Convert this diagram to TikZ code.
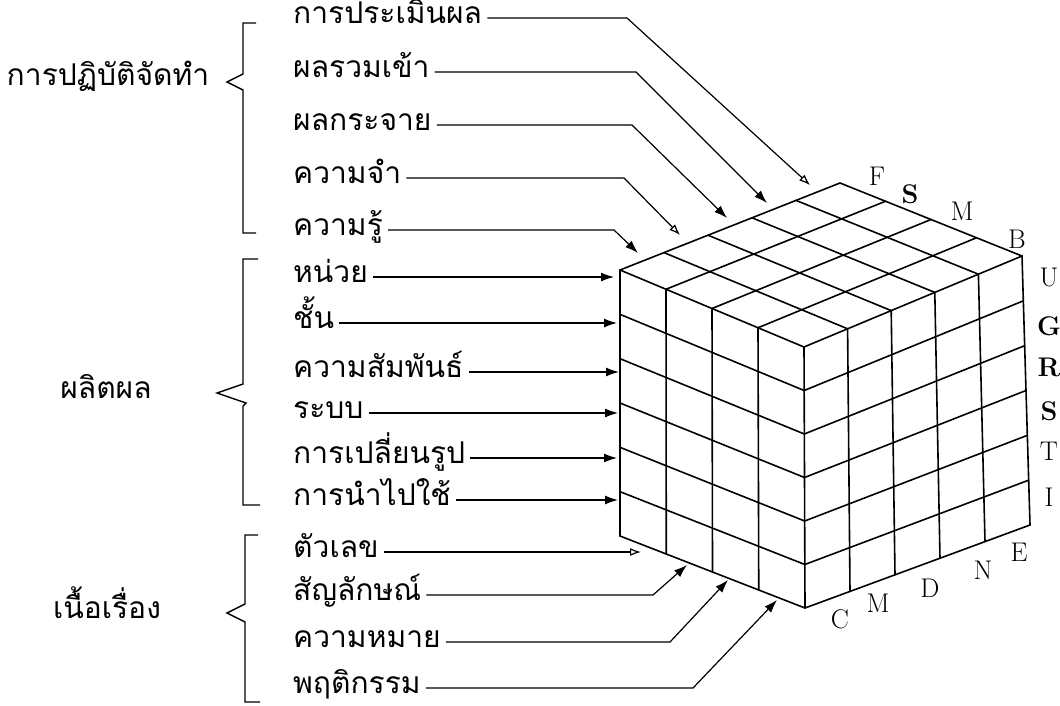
\documentclass[tikz,border=0pt]{standalone}
\usepackage{fontspec}
\newfontfamily\thai[Script=Thai]{Loma}
\usetikzlibrary{arrows.meta,calc}
\begin{document}
\begin{tikzpicture}[x=1pt,y=-1pt,
  lbl/.style={font=\thai\fontsize{30}{32}\selectfont, anchor=west, inner sep=0pt, text height=17pt, text depth=6pt},
  grp/.style={font=\thai\fontsize{30}{32}\selectfont, inner sep=0pt, text height=17pt, text depth=6pt},
  let/.style={font=\fontsize{27}{29}\selectfont, inner sep=0pt},
  blet/.style={font=\bfseries\fontsize{27}{29}\selectfont, inner sep=0pt},
  cube/.style={line width=1.6pt, line cap=round},
  conn/.style={line width=1.2pt},
  arr/.style={conn, -{Latex[length=13pt,width=9pt]}},
  oarr/.style={conn, -{Latex[open,length=11pt,width=8pt]}},
  brk/.style={line width=1.4pt}]
\useasboundingbox (0,0) rectangle (1060,705);

% ---------------- cube ----------------
\coordinate (LT) at (620,270);
\coordinate (NT) at (804,347);
\coordinate (RT) at (1022,256);
\coordinate (FT) at (840,183);
\coordinate (LB) at (620,536);
\coordinate (NB) at (805,608);
\coordinate (RB) at (1030,525);

\foreach \i in {1,2,3} \draw[cube] ($(LT)!\i/4!(NT)$) -- ($(LB)!\i/4!(NB)$);
\foreach \j in {1,...,5} \draw[cube] ($(LT)!\j/6!(LB)$) -- ($(NT)!\j/6!(NB)$);
\foreach \i in {1,...,4} \draw[cube] ($(NT)!\i/5!(RT)$) -- ($(NB)!\i/5!(RB)$);
\foreach \j in {1,...,5} \draw[cube] ($(NT)!\j/6!(NB)$) -- ($(RT)!\j/6!(RB)$);
\foreach \i in {1,...,4} \draw[cube] ($(LT)!\i/5!(FT)$) -- ($(NT)!\i/5!(RT)$);
\foreach \j in {1,2,3} \draw[cube] ($(LT)!\j/4!(NT)$) -- ($(FT)!\j/4!(RT)$);
\draw[cube] (LT) -- (FT) -- (RT) -- (RB) -- (NB) -- (LB) -- cycle;
\draw[cube] (LT) -- (NT) -- (RT);
\draw[cube] (NT) -- (NB);

% letters
\node[let]  (lF) at (877,176) {F};
\node[blet] (lS) at (910,194) {S};
\node[let]  (lM) at (962,211) {M};
\node[let]  (lB) at (1017,239) {B};

\node[let]  (rU) at (1049,277) {U};
\node[blet] (rC) at (1049,326) {G};
\node[blet] (rR) at (1049,367) {R};
\node[blet] (rS) at (1049,411) {S};
\node[let]  (rT) at (1049,451) {T};
\node[let]  (rI) at (1049,497) {I};

\node[let] (bC) at (840,619) {C};
\node[let] (bM) at (878,603) {M};
\node[let] (bD) at (930,588) {D};
\node[let] (bN) at (983,570) {N};
\node[let] (bE) at (1019,552) {E};

% ---------------- group labels and brackets ----------------
\node[grp] (g1) at (108,80) {การปฏิบัติจัดทำ};
\node[grp] (g2) at (106,393) {ผลิตผล};
\node[grp] (g3) at (107,613) {เนื้อเรื่อง};

\draw[brk] (256,23) -- (243,23) -- (243,74) -- (227,82) -- (243,90) -- (243,233) -- (256,233);
\draw[brk] (258,259) -- (243,259) -- (243,384) -- (217,393) -- (246,403) -- (243,406) -- (243,505) -- (260,505);
\draw[brk] (258,535) -- (245,535) -- (245,604) -- (227,613) -- (245,622) -- (245,702) -- (260,702);

% ---------------- operations (top) ----------------
\node[lbl] (o1) at (293,18)  {การประเมินผล};
\node[lbl] (o2) at (293,72)  {ผลรวมเข้า};
\node[lbl] (o3) at (293,125) {ผลกระจาย};
\node[lbl] (o4) at (293,178) {ความจำ};
\node[lbl] (o5) at (293,230) {ความรู้};

\coordinate (o1b) at (627,18);  \coordinate (o1t) at (810,185);
\coordinate (o2b) at (636,72);  \coordinate (o2t) at (767,203);
\coordinate (o3b) at (632,125); \coordinate (o3t) at (727,218);
\coordinate (o4b) at (624,178); \coordinate (o4t) at (680,235);
\coordinate (o5b) at (614,230); \coordinate (o5t) at (638,253);

\draw[oarr] ([xshift=5pt]o1.east) -- (o1b) -- (o1t);
\draw[arr]  ([xshift=5pt]o2.east) -- (o2b) -- (o2t);
\draw[arr]  ([xshift=5pt]o3.east) -- (o3b) -- (o3t);
\draw[oarr] ([xshift=5pt]o4.east) -- (o4b) -- (o4t);
\draw[arr]  ([xshift=5pt]o5.east) -- (o5b) -- (o5t);

% ---------------- products (left) ----------------
\node[lbl] (p1) at (293,277) {หน่วย};
\node[lbl] (p2) at (293,323) {ชั้น};
\node[lbl] (p3) at (293,372) {ความสัมพันธ์};
\node[lbl] (p4) at (293,413) {ระบบ};
\node[lbl] (p5) at (293,458) {การเปลี่ยนรูป};
\node[lbl] (p6) at (293,500) {การนำไปใช้};

\coordinate (p1t) at (614,277);
\coordinate (p2t) at (617,323);
\coordinate (p3t) at (619,372);
\coordinate (p4t) at (618,413);
\coordinate (p5t) at (617,458);
\coordinate (p6t) at (618,500);

\draw[arr] ([xshift=5pt]p1.east) -- (p1t);
\draw[arr] ([xshift=5pt]p2.east) -- (p2t);
\draw[arr] ([xshift=5pt]p3.east) -- (p3t);
\draw[arr] ([xshift=5pt]p4.east) -- (p4t);
\draw[arr] ([xshift=5pt]p5.east) -- (p5t);
\draw[arr] ([xshift=5pt]p6.east) -- (p6t);

% ---------------- contents (bottom) ----------------
\node[lbl] (c1) at (293,552) {ตัวเลข};
\node[lbl] (c2) at (293,595) {สัญลักษณ์};
\node[lbl] (c3) at (293,642) {ความหมาย};
\node[lbl] (c4) at (293,688) {พฤติกรรม};

\coordinate (c1t) at (641,552);
\coordinate (c2b) at (653,595); \coordinate (c2t) at (687,565);
\coordinate (c3b) at (670,642); \coordinate (c3t) at (728,580);
\coordinate (c4b) at (693,688); \coordinate (c4t) at (777,600);

\draw[oarr] ([xshift=5pt]c1.east) -- (c1t);
\draw[arr]  ([xshift=5pt]c2.east) -- (c2b) -- (c2t);
\draw[arr]  ([xshift=5pt]c3.east) -- (c3b) -- (c3t);
\draw[arr]  ([xshift=5pt]c4.east) -- (c4b) -- (c4t);
\end{tikzpicture}
\end{document}
